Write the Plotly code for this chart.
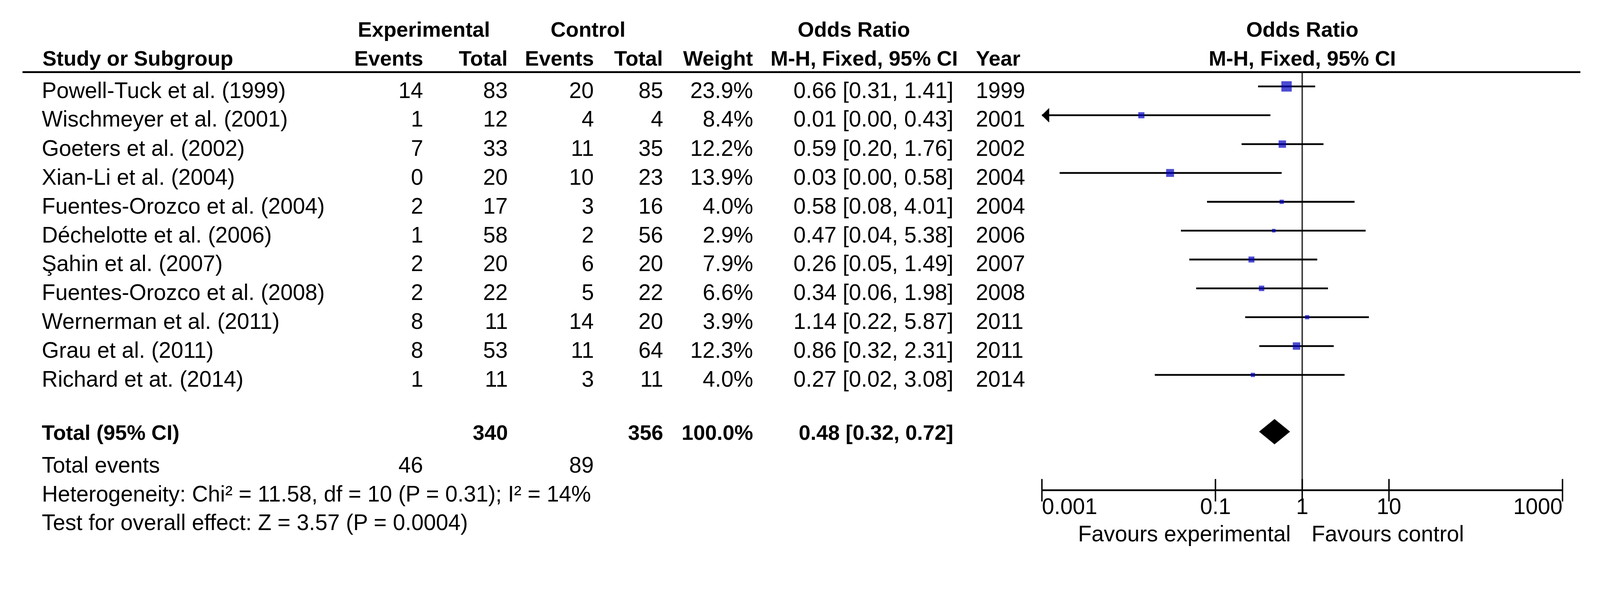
import numpy as np
import plotly.graph_objects as go

# ---------------- data ----------------
studies = ["Powell-Tuck et al. (1999)", "Wischmeyer et al. (2001)", "Goeters et al. (2002)",
           "Xian-Li et al. (2004)", "Fuentes-Orozco et al. (2004)", "Déchelotte et al. (2006)",
           "Şahin et al. (2007)", "Fuentes-Orozco et al. (2008)", "Wernerman et al. (2011)",
           "Grau et al. (2011)", "Richard et at. (2014)"]
exp_events = [14, 1, 7, 0, 2, 1, 2, 2, 8, 8, 1]
exp_total = [83, 12, 33, 20, 17, 58, 20, 22, 11, 53, 11]
ctrl_events = [20, 4, 11, 10, 3, 2, 6, 5, 14, 11, 3]
ctrl_total = [85, 4, 35, 23, 16, 56, 20, 22, 20, 64, 11]
weights = [23.9, 8.4, 12.2, 13.9, 4.0, 2.9, 7.9, 6.6, 3.9, 12.3, 4.0]
odds_ratio = [0.66, 0.014, 0.59, 0.03, 0.58, 0.47, 0.26, 0.34, 1.14, 0.86, 0.27]
ci_lower = [0.31, 0.0004, 0.20, 0.0016, 0.08, 0.04, 0.05, 0.06, 0.22, 0.32, 0.02]
ci_upper = [1.41, 0.43, 1.76, 0.58, 4.01, 5.38, 1.49, 1.98, 5.87, 2.31, 3.08]
years = [1999, 2001, 2002, 2004, 2004, 2006, 2007, 2008, 2011, 2011, 2014]

total_exp = 340
total_ctrl = 356
total_weight = 100.0
total_or = 0.48
total_lo = 0.32
total_hi = 0.72
total_events_exp = 46
total_events_ctrl = 89
heterogeneity_text = "Heterogeneity: Chi² = 11.58, df = 10 (P = 0.31); I² = 14%"
overall_text = "Test for overall effect: Z = 3.57 (P = 0.0004)"

tick_vals = [0.001, 0.1, 1, 10, 1000]
tick_text = ["0.001", "0.1", "1", "10", "1000"]
fav_left = "Favours experimental"
fav_right = "Favours control"

# ---------------- layout geometry ----------------
W, H = 4481, 1577
ROW0, ROWH = 242.0, 80.8       # pixel centre of first study row, row pitch
FONT = "Liberation Sans, Arial, sans-serif"
FS = 62      # regular text
FSB = 59     # bold text


def yi(px):
    return (px - ROW0) / ROWH


def xp(px):
    return px / W


X_MIN_PX, X_MAX_PX = 2918.0, 4376.0
dec = (X_MAX_PX - X_MIN_PX) / 6.0
pad = 0.2
x_domain = [(X_MIN_PX - pad * dec) / W, (X_MAX_PX + pad * dec) / W]
x_range = [np.log10(tick_vals[0]) - pad, np.log10(tick_vals[-1]) + pad]

fig = go.Figure()
annotations = []


def add_text(xpx, y, text, anchor="right", bold=False):
    annotations.append(dict(
        x=xp(xpx), y=y, xref="paper", yref="y", text=("<b>%s</b>" % text) if bold else text,
        showarrow=False, xanchor=anchor, yanchor="middle",
        font=dict(family=FONT, size=FSB if bold else FS, color="black")))


TXT_OFF = 11 / ROWH
H1, H2 = yi(83), yi(164)

# headers
add_text(1187, H1, "Experimental", "center", True)
add_text(1647, H1, "Control", "center", True)
add_text(2391, H1, "Odds Ratio", "center", True)
add_text(117, H2, "Study or Subgroup", "left", True)
add_text(1187, H2, "Events", "right", True)
add_text(1424, H2, "Total", "right", True)
add_text(1665, H2, "Events", "right", True)
add_text(1859, H2, "Total", "right", True)
add_text(2111, H2, "Weight", "right", True)
add_text(2420, H2, "M-H, Fixed, 95% CI", "center", True)
add_text(2731, H2, "Year", "left", True)

annotations.append(dict(x=0, y=H1, xref="x", yref="y", text="<b>Odds Ratio</b>", showarrow=False,
                        xanchor="center", yanchor="middle", font=dict(family=FONT, size=FSB, color="black")))
annotations.append(dict(x=0, y=H2, xref="x", yref="y", text="<b>M-H, Fixed, 95% CI</b>", showarrow=False,
                        xanchor="center", yanchor="middle", font=dict(family=FONT, size=FSB, color="black")))

# study rows
for i, s in enumerate(studies):
    y = i + TXT_OFF
    add_text(115, y, s, "left")
    add_text(1187, y, str(exp_events[i]))
    add_text(1424, y, str(exp_total[i]))
    add_text(1665, y, str(ctrl_events[i]))
    add_text(1859, y, str(ctrl_total[i]))
    add_text(2111, y, "%.1f%%" % weights[i])
    add_text(2672, y, "%.2f [%.2f, %.2f]" % (odds_ratio[i], ci_lower[i], ci_upper[i]))
    add_text(2731, y, str(years[i]), "left")

TOTAL_ROW = yi(1209)
yt = yi(1212)
add_text(115, yt, "Total (95% CI)", "left", True)
add_text(1424, yt, str(total_exp), "right", True)
add_text(1859, yt, str(total_ctrl), "right", True)
add_text(2111, yt, "%.1f%%" % total_weight, "right", True)
add_text(2672, yt, "%.2f [%.2f, %.2f]" % (total_or, total_lo, total_hi), "right", True)

add_text(115, yi(1302), "Total events", "left")
add_text(1187, yi(1302), str(total_events_exp))
add_text(1665, yi(1302), str(total_events_ctrl))
add_text(115, yi(1383), heterogeneity_text, "left")
add_text(115, yi(1463), overall_text, "left")

# favours labels
FAV_Y = yi(1494)
annotations.append(dict(x=0, y=FAV_Y, xref="x", yref="y", text=fav_left, showarrow=False,
                        xanchor="right", yanchor="middle", xshift=-30,
                        font=dict(family=FONT, size=FS, color="black")))
annotations.append(dict(x=0, y=FAV_Y, xref="x", yref="y", text=fav_right, showarrow=False,
                        xanchor="left", yanchor="middle", xshift=24,
                        font=dict(family=FONT, size=FS, color="black")))

# ---------------- forest plot marks ----------------
axis_min, axis_max = tick_vals[0], tick_vals[-1]
AXIS_Y = yi(1373)
HEAD_Y = yi(202)

# reference line at OR = 1
fig.add_trace(go.Scatter(x=[1, 1], y=[HEAD_Y, AXIS_Y], mode="lines",
                         line=dict(color="#333333", width=4), hoverinfo="skip", showlegend=False))

# CI lines
lx, ly = [], []
for i in range(len(studies)):
    lx += [max(ci_lower[i], axis_min), min(ci_upper[i], axis_max), None]
    ly += [i, i, None]
fig.add_trace(go.Scatter(x=lx, y=ly, mode="lines", line=dict(color="black", width=5),
                         hoverinfo="skip", showlegend=False, cliponaxis=False))

# arrowheads for CIs truncated at the axis minimum
ARROW_L = 20 / dec          # arrow length in decades
ARROW_HH = 19.5 / ROWH      # arrow half height in rows
for i in range(len(studies)):
    if ci_lower[i] < axis_min:
        base = axis_min * 10 ** ARROW_L
        fig.add_trace(go.Scatter(x=[axis_min, base, base, axis_min],
                                 y=[i, i - ARROW_HH, i + ARROW_HH, i],
                                 mode="lines", fill="toself", fillcolor="black",
                                 line=dict(color="black", width=1),
                                 hoverinfo="skip", showlegend=False))

# squares (area ~ weight)
wmax = max(weights)
sizes = [29 * np.sqrt(w / wmax) for w in weights]
fig.add_trace(go.Scatter(x=odds_ratio, y=list(range(len(studies))), mode="markers",
                         marker=dict(symbol="square", size=sizes, color="#0000C0", line=dict(width=0)),
                         hoverinfo="skip", showlegend=False, cliponaxis=False))

# diamond
DH = 35 / ROWH
fig.add_trace(go.Scatter(x=[total_lo, total_or, total_hi, total_or, total_lo],
                         y=[TOTAL_ROW, TOTAL_ROW - DH, TOTAL_ROW, TOTAL_ROW + DH, TOTAL_ROW],
                         mode="lines", fill="toself", fillcolor="black",
                         line=dict(color="black", width=1), hoverinfo="skip", showlegend=False))

# axis line
fig.add_trace(go.Scatter(x=[axis_min, axis_max], y=[AXIS_Y, AXIS_Y], mode="lines",
                         line=dict(color="black", width=5), hoverinfo="skip", showlegend=False,
                         cliponaxis=False))
# ticks
fig.add_trace(go.Scatter(x=tick_vals, y=[AXIS_Y] * len(tick_vals), mode="markers",
                         marker=dict(symbol="line-ns", size=45, line=dict(width=4, color="black")),
                         hoverinfo="skip", showlegend=False, cliponaxis=False))
# tick labels
positions = ["middle right"] + ["middle center"] * (len(tick_vals) - 2) + ["middle left"]
fig.add_trace(go.Scatter(x=tick_vals, y=[yi(1424)] * len(tick_vals), mode="text", text=tick_text,
                         textposition=positions, textfont=dict(family=FONT, size=FS, color="black"),
                         hoverinfo="skip", showlegend=False, cliponaxis=False))

# header line
shapes = [dict(type="line", xref="paper", yref="y", x0=xp(63), x1=xp(4426), y0=HEAD_Y, y1=HEAD_Y,
               line=dict(color="black", width=5))]

fig.update_layout(
    width=W, height=H, margin=dict(l=0, r=0, t=0, b=0),
    paper_bgcolor="white", plot_bgcolor="white",
    xaxis=dict(type="log", domain=x_domain, range=x_range, visible=False, fixedrange=True),
    yaxis=dict(range=[yi(H), yi(0)], domain=[0, 1], visible=False, fixedrange=True),
    annotations=annotations, shapes=shapes, showlegend=False,
)

# fit the fixed-size figure to the browser viewport (handles device scale factors)
post_js = """
var gd = document.getElementById('{plot_id}');
document.documentElement.style.margin = '0';
document.body.style.margin = '0';
document.body.style.overflow = 'hidden';
var s = Math.min(window.innerWidth / %d, window.innerHeight / %d);
gd.style.transformOrigin = '0 0';
gd.style.transform = 'scale(' + s + ')';
""" % (W, H)

fig.write_html("out.html", post_script=post_js, config={"displayModeBar": False})
